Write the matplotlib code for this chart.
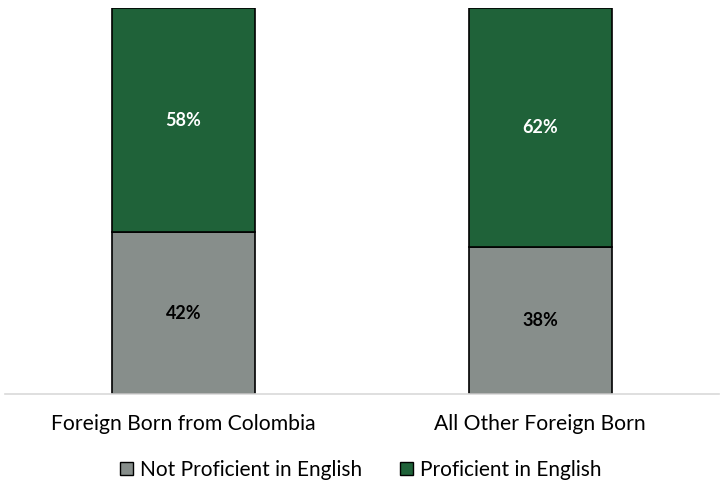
import matplotlib.pyplot as plt
from matplotlib.patches import Patch

categories = ["Foreign Born from Colombia", "All Other Foreign Born"]
not_proficient = [42, 38]
proficient = [58, 62]

gray = "#878E8B"
green = "#1F6239"

plt.rcParams["font.family"] = ["Lato", "DejaVu Sans"]

fig = plt.figure(figsize=(7.26, 4.83), dpi=100)
ax = fig.add_axes([0.007, 0.184, 0.983, 0.799])

x = range(len(categories))
ax.bar(x, not_proficient, width=0.4, color=gray, edgecolor="black", linewidth=1.2)
ax.bar(x, proficient, width=0.4, bottom=not_proficient, color=green,
       edgecolor="black", linewidth=1.2)

for i in x:
    ax.text(i, not_proficient[i] / 2, f"{not_proficient[i]}%", ha="center", va="center",
            fontsize=13, fontweight="bold", color="black")
    ax.text(i, not_proficient[i] + proficient[i] / 2, f"{proficient[i]}%", ha="center",
            va="center", fontsize=13, fontweight="bold", color="white")

ax.set_xlim(-0.5, 1.5)
ax.set_ylim(0, 100)
ax.set_xticks(list(x))
ax.set_xticklabels(categories, fontsize=15.2)
ax.tick_params(axis="x", length=0, pad=14)
ax.set_yticks([])
for s in ["top", "left", "right"]:
    ax.spines[s].set_visible(False)
ax.spines["bottom"].set_color("#d9d9d9")
ax.spines["bottom"].set_linewidth(1.2)

handles = [Patch(facecolor=gray, edgecolor="black", label="Not Proficient in English"),
           Patch(facecolor=green, edgecolor="black", label="Proficient in English")]
fig.legend(handles=handles, loc="center", bbox_to_anchor=(0.497, 0.027), ncol=2,
           frameon=False, fontsize=15, handlelength=0.62, handleheight=0.62,
           handletextpad=0.34, columnspacing=1.8)

fig.savefig("out.png", dpi=100)
